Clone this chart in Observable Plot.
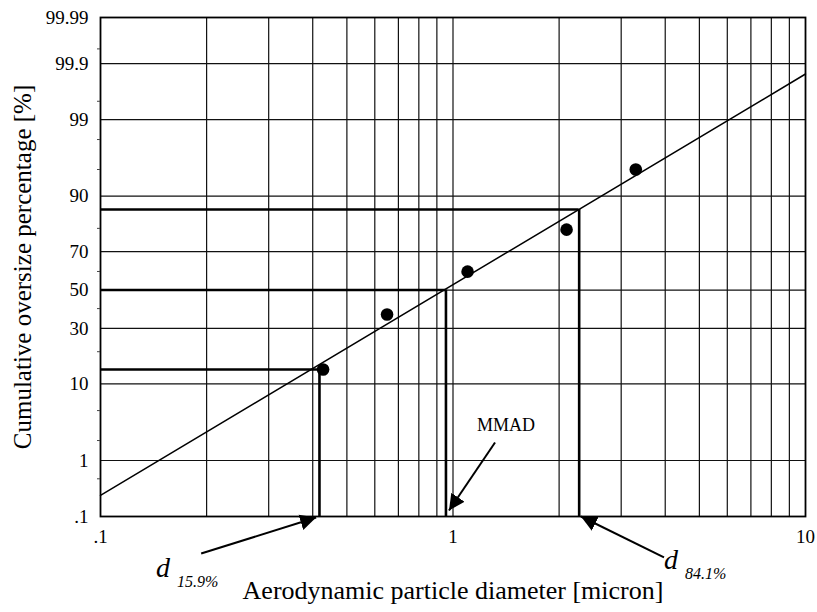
<!DOCTYPE html>
<html>
<head>
<meta charset="utf-8">
<script src="https://cdn.jsdelivr.net/npm/d3@7"></script>
<script src="https://cdn.jsdelivr.net/npm/@observablehq/plot@0.6"></script>
<style>
  html, body { margin: 0; padding: 0; background: #fff; }
  #chart { width: 817px; height: 612px; }
</style>
</head>
<body>
<div id="chart"></div>
<script>
// ---- data ----
const diameters = [0.428, 0.65, 1.10, 2.10, 3.30];          // micron
const oversize  = [13.9, 36.9, 59.9, 79.5, 95.0];           // cumulative %

const fitDiameters = [0.1, 10];
const fitOversize  = [0.255, 99.84];

const refNames     = ["d15.9", "MMAD", "d84.1"];
const refDiameters = [0.418, 0.955, 2.28];
const refOversize  = [13.9, 50, 86.4];

const xGridValues = [0.2, 0.3, 0.4, 0.5, 0.6, 0.7, 0.8, 0.9, 1, 2, 3, 4, 5, 6, 7, 8, 9];
const yGridValues = [1, 10, 30, 50, 70, 90, 99, 99.9];
const yMinorValues = [0.5, 2, 5, 20, 40, 60, 80, 95, 98, 99.5, 99.95];

const xTickValues = [0.1, 1, 10];
const xTickLabels = [".1", "1", "10"];
const yTickValues = [0.1, 1, 10, 30, 50, 70, 90, 99, 99.9, 99.99];
const yTickLabels = [".1", "1", "10", "30", "50", "70", "90", "99", "99.9", "99.99"];

// annotation arrows: tail (x1,y1) -> head (x2,y2), in micron / %
const arrowX1 = [0.193, 1.316, 3.968];
const arrowY1 = [0.0162, 1.875, 0.0132];
const arrowX2 = [0.409, 0.974, 2.307];
const arrowY2 = [0.0955, 0.1315, 0.1];

// annotation labels
const dLabelX   = [0.1437, 3.968];
const dLabelY   = [0.0044, 0.0072];
const dSubText  = ["15.9%", "84.1%"];
const mmadX = [1.414];
const mmadY = [3.22];
const mmadText = ["MMAD"];

const xTitle = "Aerodynamic particle diameter [micron]";
const yTitle = "Cumulative oversize percentage [%]";

// ---- probability (probit) transform ----
function probit(p) {
  const a=[-3.969683028665376e+01,2.209460984245205e+02,-2.759285104469687e+02,1.383577518672690e+02,-3.066479806614716e+01,2.506628277459239e+00];
  const b=[-5.447609879822406e+01,1.615858368580409e+02,-1.556989798598866e+02,6.680131188771972e+01,-1.328068155288572e+01];
  const c=[-7.784894002430293e-03,-3.223964580411365e-01,-2.400758277161838e+00,-2.549732539343734e+00,4.374664141464968e+00,2.938163982698783e+00];
  const d=[7.784695709041462e-03,3.224671290700398e-01,2.445134137142996e+00,3.754408661907416e+00];
  const pl = 0.02425, ph = 1 - pl;
  if (p < pl) { const q = Math.sqrt(-2*Math.log(p)); return (((((c[0]*q+c[1])*q+c[2])*q+c[3])*q+c[4])*q+c[5])/((((d[0]*q+d[1])*q+d[2])*q+d[3])*q+1); }
  if (p <= ph) { const q = p-0.5, r = q*q; return (((((a[0]*r+a[1])*r+a[2])*r+a[3])*r+a[4])*r+a[5])*q/(((((b[0]*r+b[1])*r+b[2])*r+b[3])*r+b[4])*r+1); }
  const q = Math.sqrt(-2*Math.log(1-p)); return -(((((c[0]*q+c[1])*q+c[2])*q+c[3])*q+c[4])*q+c[5])/((((d[0]*q+d[1])*q+d[2])*q+d[3])*q+1);
}
const z = (pct) => probit(pct / 100);

// ---- tables built from the arrays ----
const points = diameters.map((d, i) => ({d, p: oversize[i]}));
const fit = fitDiameters.map((d, i) => ({d, p: fitOversize[i]}));
const refs = refNames.map((n, i) => ({n, d: refDiameters[i], p: refOversize[i]}));
const arrows = arrowX1.map((x, i) => ({x1: x, y1: arrowY1[i], x2: arrowX2[i], y2: arrowY2[i]}));
const dLabels = dLabelX.map((x, i) => ({x, y: dLabelY[i], sub: dSubText[i]}));
const mmad = mmadX.map((x, i) => ({x, y: mmadY[i], t: mmadText[i]}));
const yLabelMap = new Map(yTickValues.map((v, i) => [z(v), yTickLabels[i]]));
const xLabelMap = new Map(xTickValues.map((v, i) => [v, xTickLabels[i]]));

const NS = "http://www.w3.org/2000/svg";
function filledHead(color, context) {
  const doc = (context && context.document) || document;
  const m = doc.createElementNS(NS, "marker");
  m.setAttribute("viewBox", "-10 -6 10 12");
  m.setAttribute("markerUnits", "userSpaceOnUse");
  m.setAttribute("markerWidth", "16");
  m.setAttribute("markerHeight", "19.2");
  m.setAttribute("refX", "0");
  m.setAttribute("refY", "0");
  m.setAttribute("orient", "auto");
  const p = doc.createElementNS(NS, "path");
  p.setAttribute("d", "M-10,-5L0,0L-10,5Z");
  p.setAttribute("fill", "black");
  p.setAttribute("stroke", "none");
  m.appendChild(p);
  return m;
}

const chart = Plot.plot({
  width: 817,
  height: 612,
  marginLeft: 100,
  marginRight: 12,
  marginTop: 17,
  marginBottom: 96,
  x: {type: "log", domain: [0.1, 10]},
  y: {type: "linear", domain: [z(0.1), z(99.99)]},
  style: {fontFamily: "'Liberation Serif', 'Times New Roman', serif", background: "white", color: "black"},
  marks: [
    Plot.ruleX(xGridValues, {x: d => d, stroke: "#111", strokeWidth: 1.2}),
    Plot.ruleY(yGridValues, {y: d => z(d), stroke: "#111", strokeWidth: 1.2}),
    Plot.frame({stroke: "black", strokeWidth: 1.8}),
    Plot.axisY(yMinorValues.map(z), {tickSize: 3, tickFormat: () => "", stroke: "#444"}),
    Plot.axisY({ticks: yTickValues.map(z), tickFormat: d => yLabelMap.get(d), tickSize: 0, tickPadding: 12, fontSize: 19, label: null}),
    Plot.axisX({ticks: xTickValues, tickFormat: d => xLabelMap.get(d), tickSize: 0, tickPadding: 13, fontSize: 19, label: null}),
    // reference (d15.9, MMAD, d84.1) construction lines
    Plot.ruleY(refs, {y: r => z(r.p), x1: fitDiameters[0], x2: r => r.d, stroke: "black", strokeWidth: 2.6}),
    Plot.ruleX(refs, {x: r => r.d, y1: z(yTickValues[0]), y2: r => z(r.p), stroke: "black", strokeWidth: 2.6}),
    // fitted log-normal line
    Plot.line(fit, {x: "d", y: r => z(r.p), stroke: "black", strokeWidth: 1.5}),
    // measured points
    Plot.dot(points, {x: "d", y: r => z(r.p), r: 6.3, fill: "black", stroke: "none"}),
    // annotation arrows
    Plot.link(arrows, {x1: "x1", y1: r => z(r.y1), x2: "x2", y2: r => z(r.y2), stroke: "black", strokeWidth: 2, markerEnd: filledHead}),
    Plot.text(mmad, {x: "x", y: r => z(r.y), text: "t", fontSize: 18}),
    Plot.text(dLabels, {x: "x", y: r => z(r.y), text: () => "d", fontSize: 28, fontStyle: "italic", textAnchor: "start", lineAnchor: "bottom"}),
    Plot.text(dLabels, {x: "x", y: r => z(r.y), text: "sub", fontSize: 16, fontStyle: "italic", textAnchor: "start", lineAnchor: "bottom", dx: 21, dy: 10}),
    // axis titles
    Plot.text([xTitle], {frameAnchor: "bottom", dy: 82, fontSize: 26}),
    Plot.text([yTitle], {frameAnchor: "left", textAnchor: "middle", rotate: -90, dx: -78, fontSize: 25})
  ]
});
document.getElementById("chart").appendChild(chart);
</script>
</body>
</html>
